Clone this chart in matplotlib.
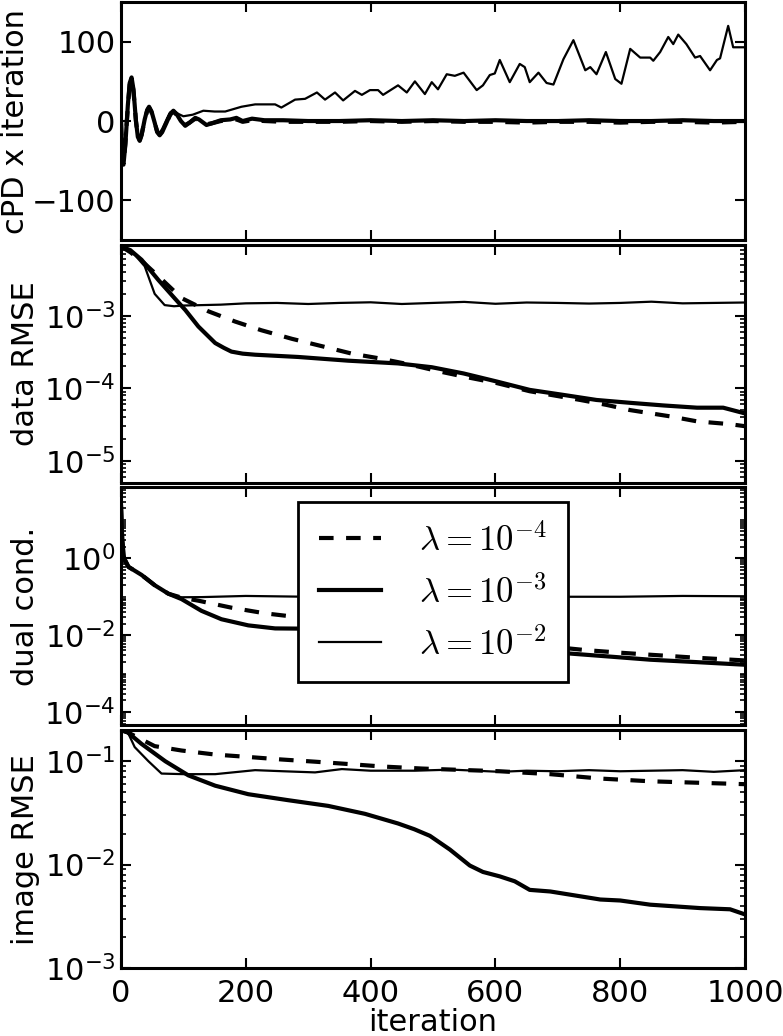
import matplotlib
matplotlib.use("Agg")
import matplotlib.pyplot as plt
from matplotlib.ticker import LogLocator, FixedLocator, NullFormatter

plt.rcParams['font.family'] = ['DejaVu Sans']
plt.rcParams['mathtext.fontset'] = 'cm'

# --- panel 1: cPD x iteration ---
cpd_it = [0, 2, 4, 7, 11, 14, 17, 20, 24, 27, 30, 33, 38, 42, 45, 49, 54, 58, 62, 66,
          73, 79, 84, 89, 96, 103, 110, 119, 125, 137, 145, 160, 175, 185, 195, 210,
          230, 260, 300, 350, 400, 450, 500, 550, 600, 650, 700, 750, 800, 850, 900, 950, 1000]
cpd_thick = [0, -50, -55, -30, 20, 48, 55, 40, 0, -20, -25, -18, 2, 14, 18, 12, -2, -14, -18, -14,
             -2, 9, 13, 9, 0, -6, -2, 4, 2, -5, -3, 1, 2, 4, 0, 3,
             1, 1, 0, 0, 1, 0, 1, 0, 1, 0, 0, 1, 0, 0, 1, 0, 0]
cpd_dash = [0, -48, -54, -28, 18, 46, 53, 38, 0, -19, -24, -17, 1, 13, 17, 11, -2, -13, -17, -13,
            -2, 8, 12, 8, 0, -5, -2, 3, 1, -4, -3, 0, 1, 2, -1, 1,
            0, -1, -1, -1, 0, -1, 0, -1, -1, -2, -1, -1, -2, -1, -1, -2, -1]
thin_it = [0, 2, 4, 7, 11, 14, 17, 20, 24, 27, 30, 33, 38, 42, 45, 49, 54, 58, 62, 66,
           73, 79, 84, 92, 100, 115, 132, 150, 167, 180, 193, 215, 247, 257, 279, 295, 314,
           327, 343, 356, 375, 386, 399, 412, 420, 444, 458, 471, 487, 498, 508, 522, 535,
           549, 570, 580, 591, 599, 607, 623, 639, 647, 655, 669, 682, 693, 709, 725, 744,
           752, 762, 777, 792, 802, 816, 832, 848, 853, 864, 877, 885, 893, 906, 920, 928,
           944, 955, 960, 973, 981, 995, 1000]
cpd_thin = [0, -50, -55, -30, 20, 48, 55, 40, 0, -20, -25, -18, 2, 14, 18, 12, -2, -12, -15, -10,
            2, 11, 13, 9, 6, 8, 13, 12, 12, 15, 18, 21, 21, 17, 27, 28, 36,
            27, 36, 26, 38, 33, 39, 39, 33, 45, 36, 50, 34, 49, 40, 59, 57,
            61, 39, 45, 58, 60, 77, 49, 72, 68, 49, 61, 48, 46, 78, 102, 64,
            68, 59, 87, 53, 47, 91, 80, 80, 76, 87, 106, 97, 109, 97, 80, 82,
            64, 77, 79, 120, 93, 93, 93]

# --- panel 2: data RMSE ---
rmse_it_dash = [0, 15, 35, 60, 97, 140, 183, 225, 274, 322, 370, 412, 460, 511, 549, 602,
                655, 736, 778, 816, 880, 923, 976, 1000]
rmse_dash = [9e-3, 7.5e-3, 5.5e-3, 3.5e-3, 1.75e-3, 1.15e-3, 8.3e-4, 6.3e-4, 4.8e-4, 3.8e-4,
             3.0e-4, 2.6e-4, 2.15e-4, 1.7e-4, 1.45e-4, 1.18e-4, 9.1e-5, 6.9e-5, 5.9e-5,
             5.0e-5, 4.1e-5, 3.5e-5, 3.2e-5, 3.0e-5]
rmse_it_thick = [0, 15, 33, 60, 87, 103, 124, 140, 151, 165, 177, 195, 215, 284, 364, 444, 498,
                 549, 602, 655, 709, 762, 816, 869, 923, 965, 1000]
rmse_thick = [9e-3, 8e-3, 5.9e-3, 3.1e-3, 1.7e-3, 1.2e-3, 7.1e-4, 5.2e-4, 4.2e-4, 3.6e-4,
              3.2e-4, 3.0e-4, 2.9e-4, 2.7e-4, 2.4e-4, 2.2e-4, 1.95e-4, 1.6e-4, 1.24e-4,
              9.5e-5, 8.1e-5, 6.9e-5, 6.3e-5, 5.8e-5, 5.4e-5, 5.4e-5, 4.5e-5]
rmse_it_thin = [0, 22, 38, 54, 70, 85, 100, 130, 160, 200, 250, 300, 350, 400, 450, 500,
                550, 600, 650, 700, 750, 800, 850, 900, 950, 1000]
rmse_thin = [9e-3, 6.9e-3, 4.8e-3, 2.0e-3, 1.4e-3, 1.35e-3, 1.38e-3, 1.4e-3, 1.42e-3, 1.48e-3,
             1.5e-3, 1.45e-3, 1.5e-3, 1.53e-3, 1.45e-3, 1.5e-3, 1.55e-3, 1.46e-3, 1.52e-3,
             1.5e-3, 1.47e-3, 1.5e-3, 1.56e-3, 1.48e-3, 1.5e-3, 1.52e-3]

# --- panel 3: dual cond. ---
dual_it_dash = [0, 2, 5, 12, 33, 54, 76, 97, 124, 177, 231, 279, 400, 500, 600, 744, 800,
                848, 920, 1000]
dual_dash = [25, 3, 1.0, 0.6, 0.37, 0.2, 0.12, 0.095, 0.079, 0.052, 0.037, 0.030, 0.018,
             0.011, 0.007, 0.0041, 0.0035, 0.0031, 0.0026, 0.0022]
dual_it_thick = [0, 2, 5, 12, 33, 54, 76, 97, 129, 161, 204, 247, 290, 400, 500, 600, 712,
                 780, 848, 920, 1000]
dual_thick = [25, 3, 1.0, 0.6, 0.37, 0.2, 0.12, 0.087, 0.043, 0.026, 0.018, 0.015, 0.0148,
              0.011, 0.0075, 0.005, 0.0034, 0.0028, 0.0023, 0.002, 0.0017]
dual_it_thin = [0, 2, 5, 12, 33, 54, 76, 97, 130, 200, 300, 400, 500, 600, 700, 800, 900, 1000]
dual_thin = [25, 3, 1.0, 0.6, 0.37, 0.2, 0.12, 0.097, 0.098, 0.105, 0.1, 0.098, 0.1, 0.102,
             0.1, 0.1, 0.105, 0.103]

# --- panel 4: image RMSE ---
img_it_dash = [0, 11, 54, 97, 151, 204, 257, 311, 364, 418, 482, 607, 688, 768, 848, 1000]
img_dash = [0.2, 0.19, 0.14, 0.127, 0.116, 0.11, 0.104, 0.099, 0.094, 0.089, 0.085, 0.080,
            0.075, 0.068, 0.064, 0.060]
img_it_thick = [0, 11, 33, 71, 108, 151, 204, 268, 332, 391, 444, 470, 495, 527, 559, 580,
                607, 631, 655, 688, 768, 800, 848, 928, 976, 1000]
img_thick = [0.2, 0.19, 0.147, 0.10, 0.073, 0.058, 0.048, 0.042, 0.037, 0.031, 0.025, 0.022,
             0.019, 0.014, 0.0098, 0.0085, 0.0077, 0.0069, 0.0057, 0.0055, 0.0046, 0.0045,
             0.0041, 0.0038, 0.0037, 0.0033]
img_it_thin = [0, 11, 22, 44, 65, 100, 151, 215, 260, 311, 354, 400, 471, 530, 607, 650, 700,
               750, 800, 850, 900, 950, 1000]
img_thin = [0.2, 0.19, 0.137, 0.10, 0.076, 0.075, 0.075, 0.082, 0.08, 0.078, 0.084, 0.081,
            0.081, 0.083, 0.079, 0.081, 0.08, 0.082, 0.08, 0.081, 0.082, 0.079, 0.082]

labels = [r'$\lambda=10^{-4}$', r'$\lambda=10^{-3}$', r'$\lambda=10^{-2}$']

fig, axes = plt.subplots(4, 1, sharex=True, figsize=(7.83, 10.36), dpi=100)
fig.subplots_adjust(left=0.1545, right=0.9515, bottom=0.0656, top=0.998, hspace=0.02)

dash_kw = dict(color='k', lw=3, ls=(0, (3.5, 3)))
thick_kw = dict(color='k', lw=3)
thin_kw = dict(color='k', lw=1.6)

ax = axes[0]
ax.plot(cpd_it, cpd_dash, **dash_kw)
ax.plot(cpd_it, cpd_thick, **thick_kw)
ax.plot(thin_it, cpd_thin, **thin_kw)
ax.set_ylim(-150, 150)
ax.set_yticks([-100, 0, 100])
ax.set_ylabel('cPD x iteration', labelpad=1)

ax = axes[1]
ax.plot(rmse_it_dash, rmse_dash, **dash_kw)
ax.plot(rmse_it_thick, rmse_thick, **thick_kw)
ax.plot(rmse_it_thin, rmse_thin, **thin_kw)
ax.set_yscale('log')
ax.set_ylim(5e-6, 9.5e-3)
ax.yaxis.set_major_locator(FixedLocator([1e-5, 1e-4, 1e-3]))
ax.yaxis.set_minor_locator(LogLocator(base=10, subs=range(2, 10)))
ax.yaxis.set_minor_formatter(NullFormatter())
ax.set_ylabel('data RMSE', labelpad=3)

ax = axes[2]
l1, = ax.plot(dual_it_dash, dual_dash, **dash_kw)
l2, = ax.plot(dual_it_thick, dual_thick, **thick_kw)
l3, = ax.plot(dual_it_thin, dual_thin, **thin_kw)
ax.set_yscale('log')
ax.set_ylim(4.5e-5, 70)
ax.yaxis.set_major_locator(FixedLocator([1e-4, 1e-2, 1e0]))
ax.yaxis.set_minor_locator(LogLocator(base=10, subs=range(1, 10), numticks=20))
ax.yaxis.set_minor_formatter(NullFormatter())
ax.set_ylabel('dual cond.', labelpad=3)
leg = ax.legend([l1, l2, l3], labels, loc='center', bbox_to_anchor=(0.5, 0.56),
                fontsize=25, fancybox=False, framealpha=1, edgecolor='k',
                handlelength=1.8, borderpad=0.6, labelspacing=0.5, handletextpad=1.1)
leg.get_frame().set_linewidth(2)

ax = axes[3]
ax.plot(img_it_dash, img_dash, **dash_kw)
ax.plot(img_it_thick, img_thick, **thick_kw)
ax.plot(img_it_thin, img_thin, **thin_kw)
ax.set_yscale('log')
ax.set_ylim(1e-3, 0.2)
ax.yaxis.set_major_locator(FixedLocator([1e-3, 1e-2, 1e-1]))
ax.yaxis.set_minor_locator(LogLocator(base=10, subs=range(2, 10)))
ax.yaxis.set_minor_formatter(NullFormatter())
ax.set_ylabel('image RMSE', labelpad=3)
ax.set_xlabel('iteration', fontsize=22, labelpad=0)

for ax in axes:
    ax.set_xlim(0, 1000)
    ax.set_xticks([0, 200, 400, 600, 800, 1000])
    for s in ax.spines.values():
        s.set_linewidth(2.2)
    ax.tick_params(which='both', direction='in', top=True, right=True, labelsize=22)
    ax.tick_params(which='major', length=7, width=1.5)
    ax.tick_params(which='minor', length=3.5, width=1.2)
    ax.tick_params(axis='x', pad=8)
    ax.tick_params(axis='y', pad=4)
    ax.yaxis.label.set_size(22)

fig.savefig('out.png', dpi=100)
